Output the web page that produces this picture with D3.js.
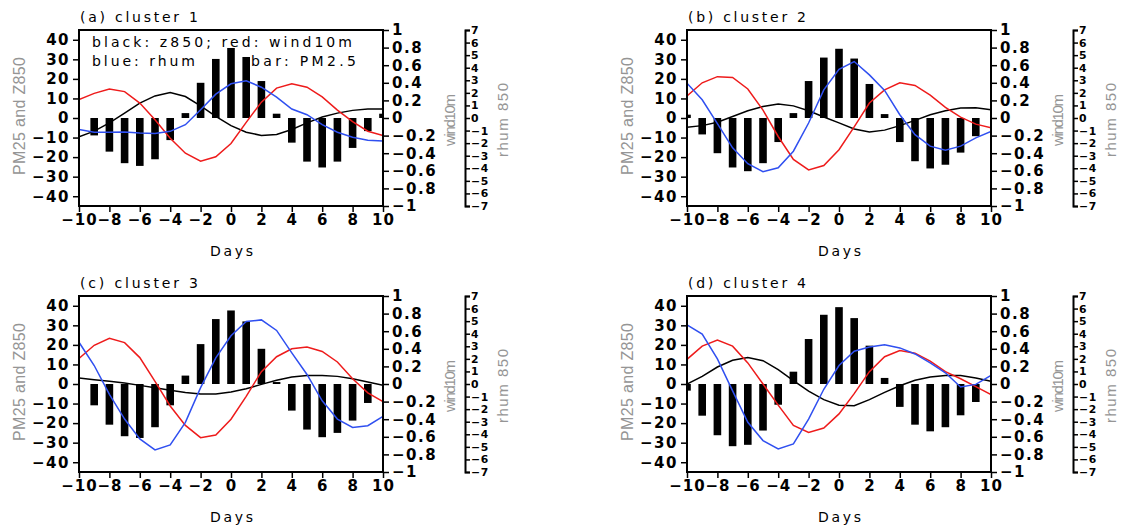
<!DOCTYPE html>
<html>
<head>
<meta charset="utf-8">
<script src="https://cdn.jsdelivr.net/npm/d3@7/dist/d3.min.js"></script>
<style>
  body { margin: 0; background: #fff; }
  .tick text { font-family: "DejaVu Sans", sans-serif; font-weight: bold; }
</style>
</head>
<body>
<div id="chart"></div>
<script>
// days and tick values
const days = [-10, -9, -8, -7, -6, -5, -4, -3, -2, -1, 0, 1, 2, 3, 4, 5, 6, 7, 8, 9, 10];
const xTicks = [-10, -8, -6, -4, -2, 0, 2, 4, 6, 8, 10];
const leftTicks = [-40, -30, -20, -10, 0, 10, 20, 30, 40];
const windTicks = [-1, -0.8, -0.6, -0.4, -0.2, 0, 0.2, 0.4, 0.6, 0.8, 1];
const rhumTicks = [-7, -6, -5, -4, -3, -2, -1, 0, 1, 2, 3, 4, 5, 6, 7];
const titles = ["(a) cluster 1", "(b) cluster 2", "(c) cluster 3", "(d) cluster 4"];

// cluster 1
const pm25_1 = [0, -8.9, -17.2, -23.1, -24.5, -21.1, -11.3, 2.5, 18, 30.2, 35.8, 31.2, 18.9, 2.2, -12.6, -22.3, -25.3, -22.3, -15.3, -6.7, 2.2];
const z850_1 = [-9.6, -6.7, -2.5, 2.5, 7.6, 11.3, 13, 11, 6.2, 0.8, -3.9, -7.3, -8.9, -8.4, -5.9, -2.5, 0.5, 2.5, 3.9, 4.6, 4.6];
const wind_1 = [0.21, 0.28, 0.33, 0.30, 0.17, -0.02, -0.23, -0.40, -0.49, -0.44, -0.29, -0.05, 0.18, 0.34, 0.39, 0.35, 0.24, 0.09, -0.04, -0.15, -0.20];
const rhum_1 = [-0.92, -1.13, -1.13, -1.11, -1.19, -1.24, -1.06, -0.53, 0.66, 1.9, 2.72, 2.96, 2.45, 1.66, 0.71, 0.26, -0.53, -1.13, -1.53, -1.77, -1.82];

// cluster 2
const pm25_2 = [1.7, -8.4, -18, -25.3, -27.2, -23.1, -12.3, 2.5, 18.9, 30.9, 35.4, 30.4, 17.4, 2, -12.3, -22.1, -25.8, -23.9, -17.7, -9.3, 0];
const z850_2 = [-4.7, -3.9, -2.2, 0.8, 3.7, 5.9, 7.1, 6.2, 3.7, 0.5, -2.5, -5.6, -7.1, -6.2, -3.9, -1.2, 1.7, 3.7, 5.1, 5.2, 4.2];
const wind_2 = [0.25, 0.40, 0.47, 0.46, 0.33, 0.09, -0.21, -0.47, -0.59, -0.54, -0.36, -0.10, 0.17, 0.32, 0.40, 0.37, 0.26, 0.12, 0.01, -0.07, -0.11];
const rhum_2 = [2.77, 1.45, -0.45, -2.37, -3.64, -4.27, -3.96, -2.64, -0.4, 2.24, 3.88, 4.49, 3.43, 2.19, 0.26, -1.32, -2.24, -2.56, -2.24, -1.58, -1.06];

// cluster 3
const pm25_3 = [0, -10.9, -20.8, -26.7, -27.6, -22.1, -10.9, 4.3, 20.4, 33.2, 37.6, 32, 18, 1, -13.6, -23.3, -27.2, -25, -18.7, -9.7, 0];
const z850_3 = [3.1, 2.2, 1.4, 0.5, -0.7, -1.9, -3.2, -4.3, -5.1, -5.1, -4.1, -2.4, -0.2, 1.9, 3.6, 4.4, 4.4, 3.9, 2.7, 1.0, -0.7];
const wind_3 = [0.29, 0.44, 0.52, 0.47, 0.30, 0.03, -0.25, -0.47, -0.61, -0.58, -0.40, -0.14, 0.14, 0.31, 0.40, 0.42, 0.37, 0.25, 0.06, -0.10, -0.20];
const rhum_3 = [3.32, 1.47, -0.82, -2.79, -4.37, -5.24, -4.84, -3.05, -0.29, 2.08, 3.84, 4.97, 5.1, 4.26, 2.47, 0.76, -1.34, -2.79, -3.45, -3.32, -2.58];

// cluster 4
const pm25_4 = [-3.4, -16.2, -26.2, -31.8, -31.1, -23.8, -10.6, 6.3, 23, 35.4, 39.3, 33.7, 19.6, 3.1, -11.7, -20.8, -24.2, -22.1, -16, -9.2, 0];
const z850_4 = [0, 3.9, 8.7, 12.1, 13.6, 11.9, 7.3, 1.7, -3.7, -8, -10.9, -11.1, -8, -4.3, -0.9, 1.9, 3.6, 4.4, 4.3, 3.1, 1.4];
const wind_4 = [0.28, 0.43, 0.50, 0.43, 0.24, 0.00, -0.24, -0.47, -0.55, -0.50, -0.34, -0.11, 0.14, 0.31, 0.38, 0.35, 0.26, 0.14, 0.06, -0.03, -0.12];
const rhum_4 = [4.71, 3.97, 2.0, -0.55, -3.05, -4.5, -5.16, -4.76, -2.79, -0.42, 1.47, 2.61, 2.95, 3.13, 2.87, 2.39, 1.68, 0.89, -0.24, -0.03, 0.68];

const clusters = [
  {pm: pm25_1, z: z850_1, w: wind_1, r: rhum_1},
  {pm: pm25_2, z: z850_2, w: wind_2, r: rhum_2},
  {pm: pm25_3, z: z850_3, w: wind_3, r: rhum_3},
  {pm: pm25_4, z: z850_4, w: wind_4, r: rhum_4}
];

const W = 1123, H = 526;
const offsets = [[0, 0], [608, 0], [0, 266], [608, 266]];
const box = {left: 79, right: 383, top: 30, bottom: 206};
const rhumX = 465;

let svg = d3.select("#chart").append("svg")
    .attr("width", W).attr("height", H)
    .style("font-family", "'DejaVu Sans', sans-serif");

svg.append("rect").attr("width", W).attr("height", H).attr("fill", "#fff");

let x = d3.scaleLinear().domain([-10, 10]).range([box.left, box.right]);
let yL = d3.scaleLinear().domain([-45, 45]).range([box.bottom, box.top]);
let yW = d3.scaleLinear().domain([-1, 1]).range([box.bottom, box.top]);
let yR = d3.scaleLinear().domain([-7, 7]).range([box.bottom, box.top]);
let barW = (x(1) - x(0)) * 0.5;

svg.append("clipPath").attr("id", "clip")
    .append("rect")
    .attr("x", box.left).attr("y", box.top)
    .attr("width", box.right - box.left).attr("height", box.bottom - box.top);

function styleAxis(g, size, spacing) {
    g.selectAll(".tick line").attr("stroke", "#000").attr("stroke-width", 1.5);
    g.selectAll(".tick text")
        .attr("font-size", size)
        .attr("letter-spacing", spacing)
        .attr("fill", "#000");
    g.select(".domain").remove();
}

clusters.forEach(function(c, i) {
    let g = svg.append("g")
        .attr("transform", `translate(${offsets[i][0]}, ${offsets[i][1]})`);

    let plot = g.append("g").attr("clip-path", "url(#clip)");

    // PM2.5 bars
    plot.selectAll("rect").data(days)
        .enter()
        .append("rect")
        .attr("x", (d) => x(d) - barW / 2)
        .attr("y", (d, j) => yL(Math.max(0, c.pm[j])))
        .attr("width", barW)
        .attr("height", (d, j) => Math.abs(yL(c.pm[j]) - yL(0)))
        .attr("fill", "#000");

    let lineL = d3.line().x((d) => x(d[0])).y((d) => yL(d[1]));
    let lineW = d3.line().x((d) => x(d[0])).y((d) => yW(d[1]));
    let lineR = d3.line().x((d) => x(d[0])).y((d) => yR(d[1]));

    plot.append("path")
        .attr("d", lineL(days.map((d, j) => [d, c.z[j]])))
        .attr("fill", "none").attr("stroke", "#000").attr("stroke-width", 1.5);
    plot.append("path")
        .attr("d", lineW(days.map((d, j) => [d, c.w[j]])))
        .attr("fill", "none").attr("stroke", "#ee1b1b").attr("stroke-width", 1.5);
    plot.append("path")
        .attr("d", lineR(days.map((d, j) => [d, c.r[j]])))
        .attr("fill", "none").attr("stroke", "#2f4ff0").attr("stroke-width", 1.5);

    // frame
    g.append("rect")
        .attr("x", box.left).attr("y", box.top)
        .attr("width", box.right - box.left).attr("height", box.bottom - box.top)
        .attr("fill", "none").attr("stroke", "#000").attr("stroke-width", 2);

    // axes
    g.append("g")
        .attr("transform", `translate(${box.left}, 0)`)
        .call(d3.axisLeft(yL).tickValues(leftTicks).tickSize(6).tickPadding(3))
        .call((a) => styleAxis(a, 15, 1.5));

    g.append("g")
        .attr("transform", `translate(0, ${box.bottom})`)
        .call(d3.axisBottom(x).tickValues(xTicks).tickSize(6).tickPadding(2))
        .call((a) => styleAxis(a, 15, 1));

    g.append("g")
        .attr("transform", `translate(${box.right}, 0)`)
        .call(d3.axisRight(yW).tickValues(windTicks).tickSize(6).tickPadding(3).tickFormat(d3.format("~g")))
        .call((a) => styleAxis(a, 15, 1.5));

    let rAxis = g.append("g")
        .attr("transform", `translate(${rhumX}, 0)`)
        .call(d3.axisRight(yR).tickValues(rhumTicks).tickSize(5).tickSizeOuter(5).tickPadding(1));
    rAxis.selectAll(".tick line").attr("stroke-width", 1.5);
    rAxis.selectAll(".tick text").attr("font-size", 10.8).attr("letter-spacing", 0.8);
    rAxis.select(".domain").attr("stroke-width", 2);

    // titles and labels
    g.append("text")
        .attr("x", 80).attr("y", 22)
        .attr("textLength", 118).attr("lengthAdjust", "spacing")
        .attr("font-size", 14)
        .text(titles[i]);

    g.append("text")
        .attr("x", (box.left + box.right) / 2 - 21).attr("y", 256)
        .attr("textLength", 43).attr("lengthAdjust", "spacing")
        .attr("font-size", 14)
        .text("Days");

    g.append("text")
        .attr("transform", `translate(${box.left - 54}, 116) rotate(-90)`)
        .attr("text-anchor", "middle")
        .attr("fill", "#959595")
        .attr("font-family", "'Liberation Sans', sans-serif")
        .attr("font-size", 16)
        .attr("textLength", 118).attr("lengthAdjust", "spacing")
        .text("PM25 and Z850");

    g.append("text")
        .attr("transform", `translate(${box.right + 72}, 120) rotate(-90)`)
        .attr("text-anchor", "middle")
        .attr("fill", "#959595")
        .attr("font-family", "'Liberation Sans', sans-serif")
        .attr("font-size", 15)
        .attr("textLength", 52).attr("lengthAdjust", "spacing")
        .text("wind10m");

    g.append("text")
        .attr("transform", `translate(${rhumX + 43}, 120) rotate(-90)`)
        .attr("text-anchor", "middle")
        .attr("fill", "#959595")
        .attr("font-family", "'Liberation Sans', sans-serif")
        .attr("font-size", 15)
        .attr("textLength", 74).attr("lengthAdjust", "spacing")
        .text("rhum 850");

    if (i === 0) {
        g.append("text").attr("x", 92).attr("y", 47)
            .attr("textLength", 260).attr("lengthAdjust", "spacing")
            .attr("font-size", 14).text("black: z850; red: wind10m");
        g.append("text").attr("x", 92).attr("y", 65.5)
            .attr("textLength", 103).attr("lengthAdjust", "spacing")
            .attr("font-size", 14).text("blue: rhum");
        g.append("text").attr("x", 251).attr("y", 65.5)
            .attr("textLength", 105).attr("lengthAdjust", "spacing")
            .attr("font-size", 14).text("bar: PM2.5");
    }
});
</script>
</body>
</html>
